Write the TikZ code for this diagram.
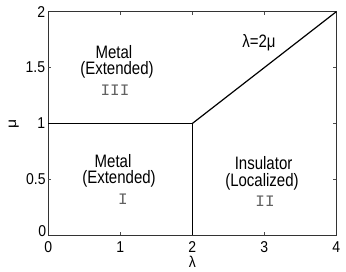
\documentclass[tikz,border=0pt]{standalone}
\usepackage{fontspec}
\setmainfont{Liberation Sans}
\newfontfamily\romfont{Liberation Mono}
\usetikzlibrary{calc}
\begin{document}
\begin{tikzpicture}[x=72pt,y=111.8pt,
  lbl/.style={inner sep=0pt,font=\fontsize{15}{15}\selectfont,yscale=1.2,transform shape},
  rom/.style={inner sep=0pt,font=\romfont\fontsize{16}{16}\selectfont,text=black!62,transform shape},
  tick/.style={inner sep=0pt,font=\fontsize{14}{14}\selectfont,yscale=1.12,transform shape},
  frame/.style={draw=black!80,line width=0.6pt},
  bound/.style={draw=black,line width=1.2pt},
  tk/.style={draw=black!70,line width=0.5pt}]
\useasboundingbox (-48.3pt,-35.7pt) rectangle (297.7pt,235.3pt);
% frame
\coordinate (o) at (0,0);
\coordinate (tr) at (4,2);
\draw[frame] (o) rectangle (tr);
% ticks
\foreach \x in {1,2,3}{
  \draw[tk] (\x,0) -- ++(0,3pt);
  \draw[tk] (\x,2) -- ++(0,-3pt);
}
\foreach \y in {0.5,1,1.5}{
  \draw[tk] (0,\y) -- ++(3pt,0);
  \draw[tk] (4,\y) -- ++(-3pt,0);
}
% tick labels
\foreach \x in {0,1,2,3,4}{
  \node[tick] (xl\x) at ($(\x,0)+(0,-11.5pt)$) {\x};
}
\node[tick,anchor=east] (yl0) at ($(0,0.04)+(-2pt,0)$) {0};
\node[tick,anchor=east] (yl05) at ($(0,0.5)+(-2.5pt,0)$) {0.5};
\node[tick,anchor=east] (yl1) at ($(0,1)+(-3pt,0)$) {1};
\node[tick,anchor=east] (yl15) at ($(0,1.5)+(-3pt,0)$) {1.5};
\node[tick,anchor=east] (yl2) at ($(0,2)+(-3pt,0)$) {2};
% axis labels
\node[tick,anchor=north] (xlab) at ($(xl2.south)+(0,-3pt)$) {λ};
\node[tick,rotate=90] (ylab) at ($(0,1)+(-34.5pt,0)$) {μ};
% phase boundaries
\coordinate (a) at (0,1);
\coordinate (b) at (2,1);
\coordinate (c) at (2,0);
\draw[bound] (a) -- (b) -- (c);
\draw[bound] (b) -- (tr);
% region labels
\node[lbl] (m3) at (0.912,1.640) {Metal};
\node[lbl] (e3) at (0.954,1.478) {(Extended)};
\node[rom] (r3) at (0.926,1.299) {III};
\node[lbl] (m1) at (0.899,0.665) {Metal};
\node[lbl] (e1) at (0.982,0.504) {(Extended)};
\node[rom] (r1) at (1.038,0.325) {I};
\node[lbl] (ins) at (2.99,0.647) {Insulator};
\node[lbl] (loc) at (2.968,0.477) {(Localized)};
\node[rom] (r2) at (3.010,0.307) {II};
\node[lbl] (eq) at (2.926,1.720) {λ=2μ};
\end{tikzpicture}
\end{document}
